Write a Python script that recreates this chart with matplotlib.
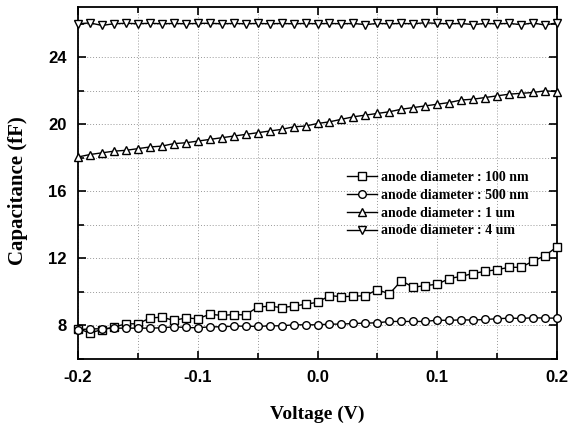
import matplotlib
matplotlib.use("Agg")
import matplotlib.pyplot as plt
import numpy as np
from matplotlib.ticker import MultipleLocator

plt.rcParams['axes.unicode_minus'] = False

voltage = np.round(np.arange(-0.2, 0.2001, 0.01), 2)

cap_100nm = [7.80, 7.56, 7.75, 7.90, 8.10, 8.10, 8.44, 8.50, 8.30, 8.45,
             8.40, 8.67, 8.60, 8.65, 8.63, 9.10, 9.15, 9.07, 9.15, 9.27,
             9.38, 9.78, 9.72, 9.74, 9.78, 10.14, 9.88, 10.67, 10.28, 10.38,
             10.46, 10.80, 10.93, 11.10, 11.23, 11.33, 11.47, 11.47, 11.84, 12.16,
             12.70]
cap_500nm = [7.74, 7.80, 7.80, 7.84, 7.84, 7.84, 7.84, 7.86, 7.92, 7.88,
             7.86, 7.92, 7.92, 7.96, 7.96, 7.94, 7.98, 7.98, 8.04, 8.04,
             8.04, 8.08, 8.08, 8.12, 8.14, 8.16, 8.24, 8.24, 8.24, 8.24,
             8.32, 8.30, 8.34, 8.32, 8.36, 8.40, 8.44, 8.42, 8.46, 8.44,
             8.44]
cap_1um = [18.05, 18.20, 18.30, 18.40, 18.45, 18.55, 18.65, 18.70, 18.85, 18.90,
           19.00, 19.10, 19.20, 19.30, 19.40, 19.50, 19.60, 19.70, 19.85, 19.90,
           20.05, 20.15, 20.30, 20.45, 20.55, 20.65, 20.75, 20.90, 21.00, 21.10,
           21.20, 21.30, 21.45, 21.50, 21.60, 21.70, 21.80, 21.85, 21.90, 22.00,
           21.95]
cap_4um = [26.00, 26.05, 25.90, 26.00, 26.03, 26.00, 26.03, 26.00, 26.02, 26.00,
           26.02, 26.03, 26.00, 26.02, 26.00, 26.02, 26.00, 26.02, 26.00, 26.02,
           26.00, 26.02, 26.00, 26.02, 25.95, 26.02, 26.00, 26.02, 26.00, 26.06,
           26.02, 26.00, 26.02, 25.95, 26.02, 26.00, 26.02, 25.95, 26.05, 25.92,
           26.06]

labels = ['anode diameter : 100 nm', 'anode diameter : 500 nm',
          'anode diameter : 1 um', 'anode diameter : 4 um']
markers = ['s', 'o', '^', 'v']

fig = plt.figure(figsize=(5.69, 4.30), dpi=100)
ax = fig.add_axes([78/569, 1 - 359/430, (557-78)/569, (359-7)/430])

for y, lab, m in zip([cap_100nm, cap_500nm, cap_1um, cap_4um], labels, markers):
    ax.plot(voltage, y, color='black', lw=1.0, marker=m, markersize=5.5,
            markerfacecolor='white', markeredgecolor='black', markeredgewidth=1.0,
            label=lab, clip_on=False, zorder=3)

ax.set_xlim(-0.2, 0.2)
ax.set_ylim(6, 27)
ax.xaxis.set_major_locator(MultipleLocator(0.1))
ax.xaxis.set_minor_locator(MultipleLocator(0.05))
ax.yaxis.set_major_locator(MultipleLocator(4))
ax.yaxis.set_minor_locator(MultipleLocator(2))
ax.set_yticks([8, 12, 16, 20, 24])

ax.grid(True, which='both', ls=(0, (1, 2)), lw=0.7, color='#999999', zorder=0)
ax.tick_params(which='both', direction='in', top=True, right=True, width=1.2)
ax.tick_params(which='major', length=6)
ax.tick_params(which='minor', length=4)
for s in ax.spines.values():
    s.set_linewidth(1.3)

for t in ax.get_xticklabels() + ax.get_yticklabels():
    t.set_fontfamily('Liberation Sans')
    t.set_fontweight('bold')
    t.set_fontsize(12)
ax.tick_params(axis='x', pad=8)
ax.tick_params(axis='y', pad=8)

ax.set_xlabel('Voltage (V)', fontfamily='Liberation Serif', fontweight='bold',
              fontsize=14, labelpad=15)
ax.set_ylabel('Capacitance (fF)', fontfamily='Liberation Serif', fontweight='bold',
              fontsize=15)
ax.yaxis.set_label_coords(-0.104, 0.477)

ax.legend(loc='upper left', bbox_to_anchor=(0.535, 0.57), frameon=False,
          prop={'family': 'Liberation Serif', 'weight': 'bold', 'size': 10},
          handlelength=2.2, handletextpad=0.3, labelspacing=0.35)

fig.savefig('out.png', dpi=100)
